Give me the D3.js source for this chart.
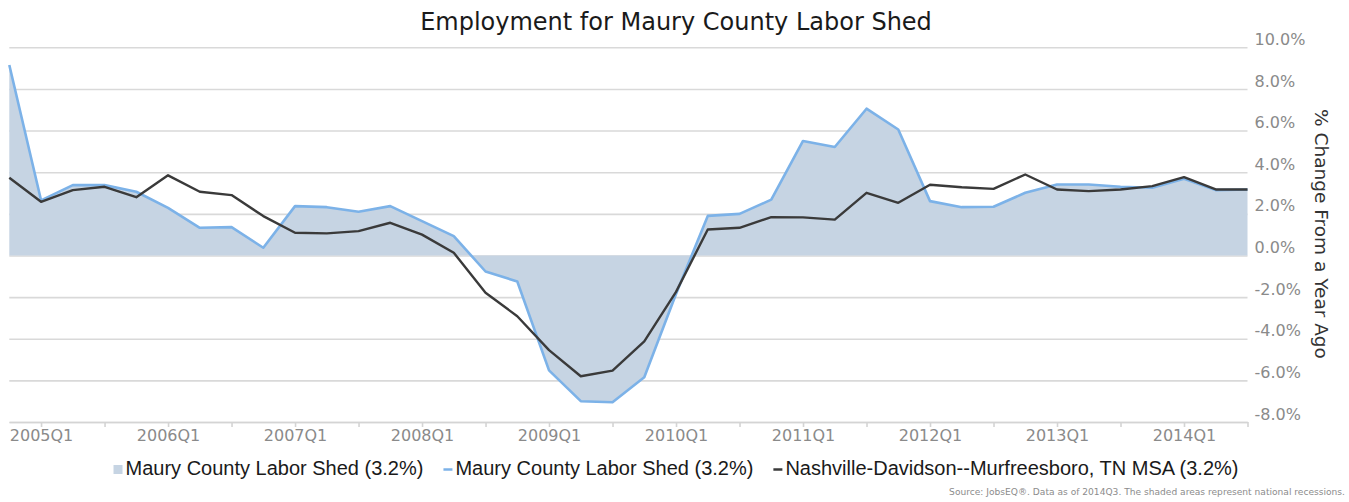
<!DOCTYPE html>
<html>
<head>
<meta charset="utf-8">
<script src="https://cdn.jsdelivr.net/npm/d3@7"></script>
<style>
  html, body { margin: 0; padding: 0; background: #fff; }
  svg { display: block; }
  .grid line { stroke: #d9d9d9; stroke-width: 1.6; }
  .grid .domain { display: none; }
  .y-axis .domain { display: none; }
  .y-axis text, .x-axis text { fill: #8a8a8a; font-family: "DejaVu Sans", sans-serif; font-size: 16px; }
  .x-axis line, .x-axis .domain { stroke: #d4d4d4; stroke-width: 1.6; }
</style>
</head>
<body>
<svg id="chart" width="1349" height="502"></svg>
<script>
// --- Data ---
const quarters = [
  '2004Q4',
  '2005Q1', '2005Q2', '2005Q3', '2005Q4',
  '2006Q1', '2006Q2', '2006Q3', '2006Q4',
  '2007Q1', '2007Q2', '2007Q3', '2007Q4',
  '2008Q1', '2008Q2', '2008Q3', '2008Q4',
  '2009Q1', '2009Q2', '2009Q3', '2009Q4',
  '2010Q1', '2010Q2', '2010Q3', '2010Q4',
  '2011Q1', '2011Q2', '2011Q3', '2011Q4',
  '2012Q1', '2012Q2', '2012Q3', '2012Q4',
  '2013Q1', '2013Q2', '2013Q3', '2013Q4',
  '2014Q1', '2014Q2', '2014Q3'
];

// Maury County Labor Shed, % change from a year ago
const maury = [
  9.15,
  2.65, 3.38, 3.38, 3.06,
  2.29, 1.33, 1.36, 0.37,
  2.37, 2.32, 2.10, 2.37,
  1.65, 0.93, -0.77, -1.25,
  -5.52, -7.00, -7.05, -5.85,
  -1.85, 1.90, 2.00, 2.68,
  5.50, 5.21, 7.05, 6.05,
  2.61, 2.32, 2.34, 3.01,
  3.41, 3.41, 3.30, 3.25,
  3.69, 3.14, 3.17
];

// Nashville-Davidson--Murfreesboro, TN MSA
const nashville = [
  3.73,
  2.58, 3.14, 3.30, 2.80,
  3.85, 3.06, 2.90, 1.89,
  1.09, 1.06, 1.17, 1.57,
  1.00, 0.13, -1.79, -2.92,
  -4.55, -5.80, -5.53, -4.13,
  -1.75, 1.25, 1.33, 1.84,
  1.83, 1.72, 3.01, 2.53,
  3.40, 3.28, 3.20, 3.89,
  3.17, 3.09, 3.17, 3.33,
  3.76, 3.17, 3.17
];

const yTicks = [-8, -6, -4, -2, 0, 2, 4, 6, 8, 10];
const xLabels = ['2005Q1', '2006Q1', '2007Q1', '2008Q1', '2009Q1', '2010Q1', '2011Q1', '2012Q1', '2013Q1', '2014Q1'];
const xTickQuarters = quarters.filter((q, i) => i % 2 === 1);

const legendItems = [
  { label: 'Maury County Labor Shed (3.2%)', kind: 'area' },
  { label: 'Maury County Labor Shed (3.2%)', kind: 'blue' },
  { label: 'Nashville-Davidson--Murfreesboro, TN MSA (3.2%)', kind: 'black' }
];

const colors = {
  area: '#c6d4e3',
  blue: '#7cb2e8',
  black: '#3a3a3a'
};

// --- Layout ---
const svg = d3.select('#chart');
const plot = { left: 9.3, right: 1247.5, top: 47.3, bottom: 422 };

const x = d3.scalePoint().domain(quarters).range([plot.left, plot.right]);
const y = d3.scaleLinear().domain([-8, 10]).range([plot.bottom, plot.top]);

// Gridlines
svg.append('g')
  .attr('class', 'grid')
  .attr('transform', `translate(${plot.right},0)`)
  .call(d3.axisLeft(y).tickValues(yTicks).tickSize(plot.right - plot.left).tickFormat(''));

// Area (Maury)
const area = d3.area()
  .x((d, i) => x(quarters[i]))
  .y0(y(0))
  .y1(d => y(d));

svg.append('path')
  .datum(maury)
  .attr('d', area)
  .attr('fill', colors.area);

// Lines
const line = d3.line()
  .x((d, i) => x(quarters[i]))
  .y(d => y(d));

svg.append('path')
  .datum(maury)
  .attr('d', line)
  .attr('fill', 'none')
  .attr('stroke', colors.blue)
  .attr('stroke-width', 2.6)
  .attr('stroke-linejoin', 'round');

svg.append('path')
  .datum(nashville)
  .attr('d', line)
  .attr('fill', 'none')
  .attr('stroke', colors.black)
  .attr('stroke-width', 2.4)
  .attr('stroke-linejoin', 'round');

// X axis
svg.append('g')
  .attr('class', 'x-axis')
  .attr('transform', `translate(0,${plot.bottom})`)
  .call(d3.axisBottom(x)
    .tickValues(xTickQuarters)
    .tickSize(5)
    .tickSizeOuter(0)
    .tickPadding(3)
    .tickFormat(q => xLabels.includes(q) ? q : ''));

// Y axis (right side labels)
svg.append('g')
  .attr('class', 'y-axis')
  .attr('transform', `translate(${plot.right},0)`)
  .call(d3.axisRight(y)
    .tickValues(yTicks)
    .tickSize(0)
    .tickPadding(7)
    .tickFormat(v => v.toFixed(1) + '%'))
  .selectAll('text')
  .attr('dy', '-0.18em');

// Axis title
svg.append('text')
  .attr('transform', 'translate(1315,234) rotate(90)')
  .attr('text-anchor', 'middle')
  .attr('font-family', 'DejaVu Sans, sans-serif')
  .attr('font-size', 18.5)
  .attr('fill', '#333')
  .text('% Change From a Year Ago');

// Title
svg.append('text')
  .attr('x', 676)
  .attr('y', 30)
  .attr('text-anchor', 'middle')
  .attr('font-family', 'DejaVu Sans, sans-serif')
  .attr('font-size', 24)
  .attr('fill', '#1a1a1a')
  .text('Employment for Maury County Labor Shed');

// Legend
const legend = svg.append('g').attr('class', 'legend');
let cursor = 0;
legendItems.forEach(item => {
  const g = legend.append('g').attr('transform', `translate(${cursor},0)`);
  if (item.kind === 'area') {
    g.append('rect')
      .attr('x', 0).attr('y', -3)
      .attr('width', 9).attr('height', 9)
      .attr('fill', colors.area);
  } else {
    g.append('line')
      .attr('x1', 0).attr('x2', 9)
      .attr('y1', 1.5).attr('y2', 1.5)
      .attr('stroke', colors[item.kind])
      .attr('stroke-width', 2.5);
  }
  const t = g.append('text')
    .attr('x', 12)
    .attr('y', 7)
    .attr('font-family', 'Liberation Sans, Arial, sans-serif')
    .attr('font-size', 20)
    .attr('fill', '#1a1a1a')
    .text(item.label);
  cursor += 12 + t.node().getComputedTextLength() + 20;
});
const legendWidth = cursor - 20;
legend.attr('transform', `translate(${676 - legendWidth / 2},468)`);

// Source note
svg.append('text')
  .attr('x', 1345)
  .attr('y', 495)
  .attr('text-anchor', 'end')
  .attr('font-family', 'DejaVu Sans, sans-serif')
  .attr('font-size', 9.1)
  .attr('fill', '#8c8c8c')
  .text('Source: JobsEQ®. Data as of 2014Q3. The shaded areas represent national recessions.');
</script>
</body>
</html>
